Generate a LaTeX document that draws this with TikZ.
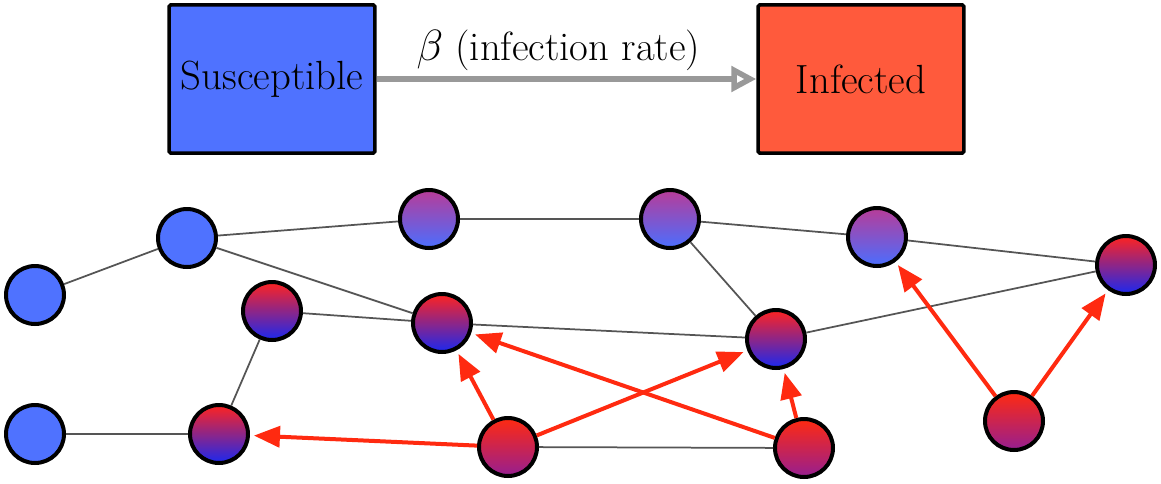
\documentclass[tikz,border=0pt]{standalone}
\definecolor{susblue}{HTML}{4F72FF}
\definecolor{infred}{HTML}{FF5A3C}
\definecolor{edgegray}{HTML}{555555}
\definecolor{rategray}{HTML}{999999}
\definecolor{arrred}{HTML}{FF2A10}
\definecolor{mildtop}{HTML}{B83C98}
\definecolor{mildmid}{HTML}{7E52CE}
\definecolor{mildbot}{HTML}{4A6EFF}
\definecolor{inftop}{HTML}{FF2320}
\definecolor{infmid}{HTML}{A0259A}
\definecolor{infbot}{HTML}{1A28F0}
\definecolor{srctop}{HTML}{FF2A10}
\definecolor{srcbot}{HTML}{961E91}
\usepackage{tikz}
\usetikzlibrary{arrows.meta}
\newcommand{\bigtxt}{\fontsize{23.2}{27}\selectfont}
\tikzset{
  box_sus/.style={draw=black,fill=susblue,line width=0.07cm,rounded corners=1pt,
    minimum width=4.12cm,minimum height=2.97cm,font=\bigtxt},
  box_inf/.style={box_sus,fill=infred},
  node_sus/.style={circle,draw=black,line width=0.08cm,fill=susblue,minimum size=1.16cm},
  node_mild/.style={node_sus,top color=mildtop,middle color=mildmid,bottom color=mildbot},
  node_inf/.style={node_sus,top color=inftop,middle color=infmid,bottom color=infbot},
  node_src/.style={node_sus,top color=srctop,bottom color=srcbot},
  edge/.style={draw=edgegray,line width=0.035cm},
  arr/.style={-{Triangle[length=0.52cm,width=0.42cm]},draw=arrred,line width=0.08cm,shorten >=0.08cm},
  arr_rate/.style={-{Triangle[open,length=0.5cm,width=0.5cm]},draw=rategray,line width=0.11cm},
}
\begin{document}
\begin{tikzpicture}[x=0.02cm,y=-0.02cm]
  \useasboundingbox (0,0) rectangle (1161,484);
  % compartments
  \node[box_sus] (sus) at (272,79) {Susceptible};
  \node[box_inf] (inf) at (861,79) {Infected};
  \draw[arr_rate] (sus) -- (inf) node[midway,above=0pt,xshift=-0.16cm,font=\bigtxt] (rate) {$\beta$ (infection rate)};

  % network
  \node[node_sus] (s1) at (35,295) {};
  \node[node_sus] (s2) at (187,238) {};
  \node[node_sus] (s3) at (35,434) {};
  \node[node_mild] (m1) at (429,219) {};
  \node[node_mild] (m2) at (670,219) {};
  \node[node_mild] (m3) at (877,237) {};
  \node[node_inf] (i1) at (272,311) {};
  \node[node_inf] (i2) at (442,323) {};
  \node[node_inf] (i3) at (776,339) {};
  \node[node_inf] (i4) at (219,434) {};
  \node[node_inf] (i5) at (1126,265) {};
  \node[node_src] (c1) at (508,447) {};
  \node[node_src] (c2) at (804,448) {};
  \node[node_src] (c3) at (1014,421) {};

  \draw[edge](s1)--(s2);\draw[edge](s2)--(m1);\draw[edge](s2)--(i2);
  \draw[edge](m1)--(m2);\draw[edge](m2)--(m3);\draw[edge](m2)--(i3);
  \draw[edge](m3)--(i5);\draw[edge](i1)--(i2);\draw[edge](i1)--(i4);
  \draw[edge](i2)--(i3);\draw[edge](i3)--(i5);\draw[edge](s3)--(i4);
  \draw[edge](c1)--(c2);

  \draw[arr](c1)--(i4);\draw[arr](c1)--(i2);\draw[arr](c1)--(i3);
  \draw[arr](c2)--(i2);\draw[arr](c2)--(i3);
  \draw[arr](c3)--(m3);\draw[arr](c3)--(i5);
\end{tikzpicture}
\end{document}
